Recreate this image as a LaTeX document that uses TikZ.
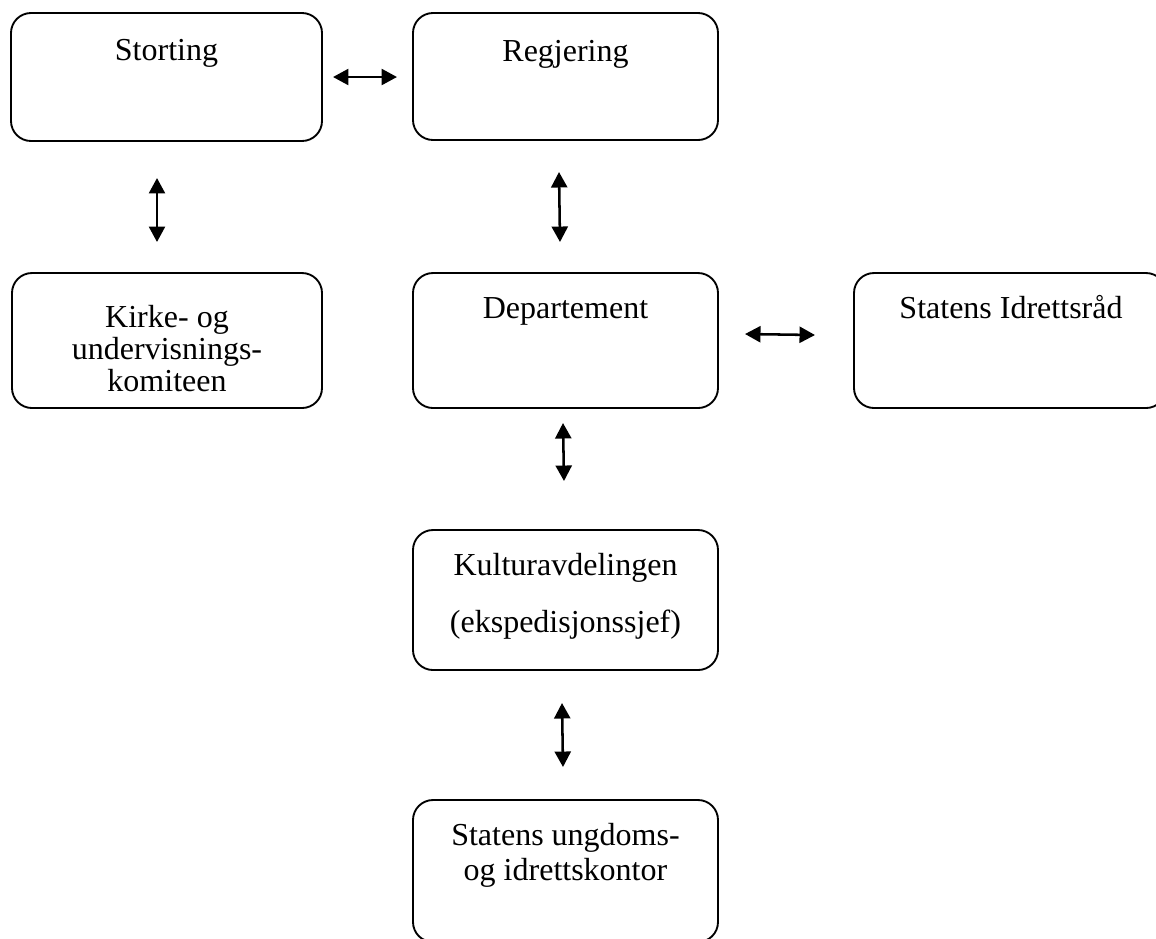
\documentclass[tikz,border=0pt]{standalone}
\usepackage{fontspec}
\setmainfont{Liberation Serif}
\usetikzlibrary{arrows.meta}
\tikzset{
  box/.style={draw=black, line width=0.7pt, rounded corners=7.5pt, inner sep=0pt},
  lbl/.style={anchor=base, inner sep=0pt, font=\fontsize{12}{14}\selectfont},
  dblarrow/.style={line width=0.95pt, {Triangle[length=5.8pt,width=6pt]}-{Triangle[length=5.8pt,width=6pt]}}
}
\begin{document}
\begin{tikzpicture}[x=0.375pt,y=-0.375pt]
\useasboundingbox (0,0) rectangle (1156,938);
% boxes
\node[box, minimum width={311*0.375pt}, minimum height={128*0.375pt}] (stor) at (166.5,77) {};
\node[box, minimum width={305*0.375pt}, minimum height={127*0.375pt}] (reg) at (565.5,76.5) {};
\node[box, minimum width={310*0.375pt}, minimum height={135*0.375pt}] (kirke) at (167,340.5) {};
\node[box, minimum width={305*0.375pt}, minimum height={135*0.375pt}] (dep) at (565.5,340.5) {};
\node[box, minimum width={312*0.375pt}, minimum height={135*0.375pt}] (idr) at (1010,340.5) {};
\node[box, minimum width={305*0.375pt}, minimum height={140*0.375pt}] (kult) at (565.5,600) {};
\node[box, minimum width={305*0.375pt}, minimum height={142*0.375pt}] (ung) at (565.5,871) {};
% texts
\node[lbl] (t1) at (166.5,60) {Storting};
\node[lbl] (t2) at (565.5,61) {Regjering};
\node[lbl] (t3a) at (167,327) {Kirke- og};
\node[lbl] (t3b) at (167,359) {undervisnings-};
\node[lbl] (t3c) at (167,391) {komiteen};
\node[lbl] (t4) at (565.5,318) {Departement};
\node[lbl] (t5) at (1011,318) {Statens Idrettsråd};
\node[lbl] (t6a) at (565.5,575) {Kulturavdelingen};
\node[lbl] (t6b) at (565.5,632) {(ekspedisjonssjef)};
\node[lbl] (t7a) at (565.5,845) {Statens ungdoms-};
\node[lbl] (t7b) at (565.5,880) {og idrettskontor};
% arrow end points
\coordinate (a1l) at (333,77);  \coordinate (a1r) at (397,77);
\coordinate (a2t) at (157,178); \coordinate (a2b) at (157,242);
\coordinate (a3t) at (559,172); \coordinate (a3b) at (560,242);
\coordinate (a4l) at (745,334); \coordinate (a4r) at (815,335);
\coordinate (a5t) at (563,423); \coordinate (a5b) at (564,481);
\coordinate (a6t) at (562,703); \coordinate (a6b) at (563,767);
% arrows
\draw[dblarrow] (a1l) -- (a1r);
\draw[dblarrow] (a2t) -- (a2b);
\draw[dblarrow] (a3t) -- (a3b);
\draw[dblarrow] (a4l) -- (a4r);
\draw[dblarrow] (a5t) -- (a5b);
\draw[dblarrow] (a6t) -- (a6b);
\end{tikzpicture}
\end{document}
